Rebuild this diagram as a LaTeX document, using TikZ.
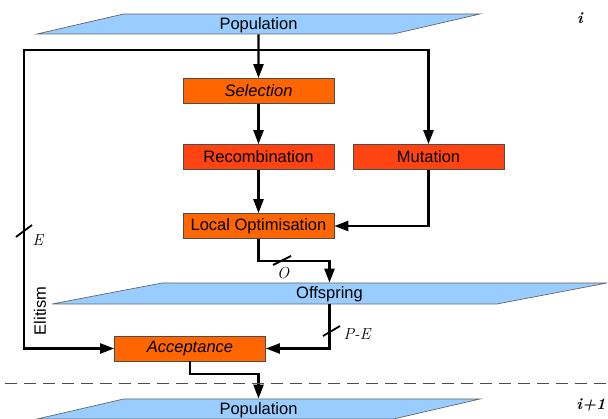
\documentclass[tikz,border=0pt]{standalone}
\usepackage{fontspec}
\setsansfont{Liberation Sans}
\usetikzlibrary{shapes.geometric,arrows.meta}
\definecolor{popblue}{HTML}{99CCFF}
\definecolor{oporange}{HTML}{FF6600}
\definecolor{varred}{HTML}{FF4411}

\begin{document}
\begin{tikzpicture}[x=1pt, y=-1pt, node distance={66pt}, font=\sffamily\fontsize{16.5}{18}\selectfont,
    io/.style = {trapezium, trapezium stretches body, trapezium left angle=13, trapezium right angle=167,
      fill=popblue, draw=black!60, line width=0.7pt, inner sep=0pt, text height=15.5pt, text depth=4.5pt,
      minimum width=443pt, minimum height=20pt},
    op/.style = {draw=black!70, line width=0.7pt, fill=oporange, minimum width=151pt, minimum height=25pt, inner sep=0pt},
    var/.style = {op, fill=varred},
    flow/.style = {line width=2.3pt, -{Triangle[length=14pt,width=10pt]}},
    tick/.style = {line width=1.8pt},
    lbl/.style = {font=\rmfamily\itshape\fontsize{16}{18}\selectfont, inner sep=0pt}]
    \useasboundingbox (0,0) rectangle (608,419);

    % generation i
    \node[io] (pop) at (258.5,24) {Population};
    \node[op] (sel) [below of=pop, node distance=67pt] {\itshape Selection};
    \node[var] (rec) [below of=sel] {Recombination};
    \node[var] (mut) [right of=rec, node distance=170pt] {Mutation};
    \node[op] (lo) [below of=rec, node distance=69pt] {Local Optimisation};
    \node[io, trapezium left angle=10.8, trapezium right angle=169.2, text height=16pt, text depth=5pt,
      minimum width=555pt, minimum height=21pt] (off) at (329.5,293.5) {Offspring};
    \node[op] (acc) at (190,348.5) {\itshape Acceptance};

    % generation i+1
    \node[io] (next) at (258.5,409) {Population};

    \coordinate (split) at (258.5,50);
    \coordinate (elite) at (24,50);

    % Disegna gli archi
    \draw[flow] (pop) -- (sel);
    \draw[flow] (split) -| (mut.north);
    \draw[flow] (split) -- (elite) |- (acc.west);
    \draw[flow] (sel) -- (rec);
    \draw[flow] (rec) -- (lo);
    \draw[flow] (mut.south) |- (lo.east);
    \draw[flow] (lo.south) -- ++(0,22) -| (off.north);
    \draw[flow] (off.south) |- (acc.east);
    \draw[flow] (acc.south) -- ++(0,12.5) -| (next.north);

    % tagli con le cardinalita
    \draw[tick] (16,237) -- (32,225);
    \node[lbl] (e) at (38,240) {E};
    \draw[tick] (273,265) -- (291,256);
    \node[lbl] (o) at (283,273) {O};
    \draw[tick] (323,336) -- (340,326);
    \node[lbl] (pe) at (357,334) {P-E};
    \node[rotate=90] (elitism) at (40,311) {Elitism};

    % generazioni
    \draw[black!70, line width=1pt, dash pattern=on 12pt off 7pt] (5,384) -- (608,384);
    \node[lbl] (gen) at (580,18) {\bfseries i};
    \node[lbl] (gennext) at (591,405) {\bfseries i+1};
\end{tikzpicture}
\end{document}
